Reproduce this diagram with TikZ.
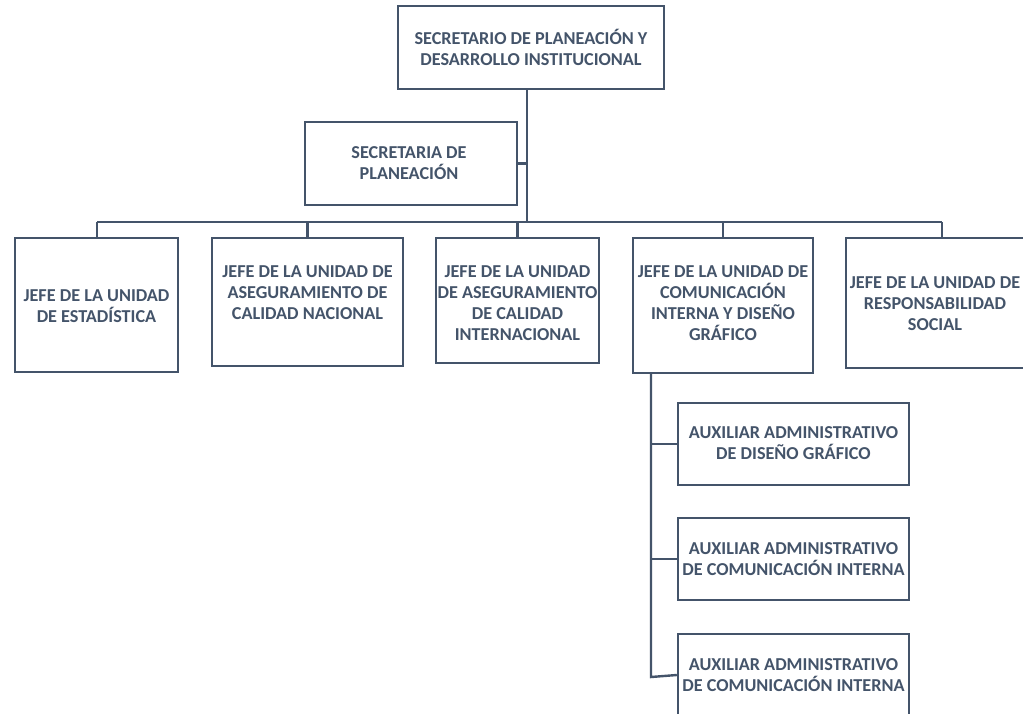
\documentclass[tikz,border=0pt]{standalone}
\usepackage{fontspec}
\setmainfont{Carlito}
\definecolor{slate}{HTML}{44546A}
\tikzset{
  box/.style={draw=slate, line width=2.4pt, rectangle, inner sep=0pt},
  lbl/.style={text=slate, font=\bfseries\fontsize{18.2}{21}\selectfont, align=center, inner sep=0pt},
  link/.style={draw=slate, line width=2.4pt}
}
\begin{document}
\begin{tikzpicture}[x=1pt,y=-1pt]
\clip (0,0) rectangle (1023,713);
\fill[white] (0,0) rectangle (1023,713);
% boxes
\node[box, minimum width=266pt, minimum height=83pt] (top) at (531,47.5) {};
\node[box, minimum width=212pt, minimum height=83pt] (sec) at (411,163.5) {};
\node[box, minimum width=163pt, minimum height=134pt] (b1) at (96.5,305) {};
\node[box, minimum width=191pt, minimum height=128pt] (b2) at (307.5,302) {};
\node[box, minimum width=163pt, minimum height=125pt] (b3) at (517.5,300.5) {};
\node[box, minimum width=180pt, minimum height=135pt] (b4) at (723,305.5) {};
\node[box, minimum width=178pt, minimum height=130pt] (b5) at (935,303) {};
\node[box, minimum width=231pt, minimum height=82pt] (a1) at (793.5,444) {};
\node[box, minimum width=231pt, minimum height=82pt] (a2) at (793.5,559) {};
\node[box, minimum width=231pt, minimum height=82pt] (a3) at (793.5,675) {};
% labels
\node[lbl] (ttop) at (531,47.5) {SECRETARIO DE PLANEACIÓN Y\\DESARROLLO INSTITUCIONAL};
\node[lbl] (tsec) at (409,163.5) {SECRETARIA DE\\PLANEACIÓN};
\node[lbl] (tb1) at (96.5,306) {JEFE DE LA UNIDAD\\DE ESTADÍSTICA};
\node[lbl] (tb2) at (307.5,293) {JEFE DE LA UNIDAD DE\\ASEGURAMIENTO DE\\CALIDAD NACIONAL};
\node[lbl] (tb3) at (517.5,303) {JEFE DE LA UNIDAD\\DE ASEGURAMIENTO\\DE CALIDAD\\INTERNACIONAL};
\node[lbl] (tb4) at (723,303.5) {JEFE DE LA UNIDAD DE\\COMUNICACIÓN\\INTERNA Y DISEÑO\\GRÁFICO};
\node[lbl] (tb5) at (935,303.5) {JEFE DE LA UNIDAD DE\\RESPONSABILIDAD\\SOCIAL};
\node[lbl] (ta1) at (793.5,443.5) {AUXILIAR ADMINISTRATIVO\\DE DISEÑO GRÁFICO};
\node[lbl] (ta2) at (793.5,559.5) {AUXILIAR ADMINISTRATIVO\\DE COMUNICACIÓN INTERNA};
\node[lbl] (ta3) at (793.5,675.5) {AUXILIAR ADMINISTRATIVO\\DE COMUNICACIÓN INTERNA};
% connectors
\coordinate (t) at (527,222);
\coordinate (s1) at (97,222);
\coordinate (s5) at (942,222);
\coordinate (sub) at (651,677);
\draw[link] (top.south -| t) -- (t);
\draw[link] (sec.east) -- (sec.east -| t);
\draw[link] (s1) -- (s5);
\draw[link] (b1.north -| s1) -- (s1);
\draw[link] (b2.north) -- (b2.north |- t);
\draw[link] (b3.north) -- (b3.north |- t);
\draw[link] (b4.north) -- (b4.north |- t);
\draw[link] (b5.north -| s5) -- (s5);
\draw[link] (b4.south -| sub) -- (sub) -- (a3.west);
\draw[link] (a1.west) -- (a1.west -| sub);
\draw[link] (a2.west) -- (a2.west -| sub);
\end{tikzpicture}
\end{document}
